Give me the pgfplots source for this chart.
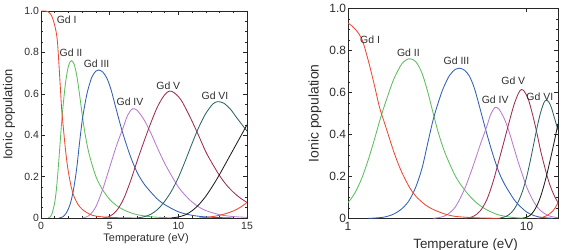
\documentclass[border=0pt]{standalone}
\usepackage{pgfplots}
\pgfplotsset{compat=1.18}
\usepackage{pgfplotstable}
\usepackage{fontspec}
\setmainfont{Liberation Sans}
\setsansfont{Liberation Sans}

\definecolor{cI}{RGB}{240,72,48}
\definecolor{cII}{RGB}{92,190,92}
\definecolor{cIII}{RGB}{48,94,182}
\definecolor{cIV}{RGB}{184,122,208}
\definecolor{cV}{RGB}{160,44,78}
\definecolor{cVI}{RGB}{46,100,100}
\definecolor{cVII}{RGB}{30,30,30}
\definecolor{txt}{RGB}{45,45,45}

\pgfplotstableread{
T v
0.02 1.0
0.3 1.0
0.5 0.997
0.7 0.985
0.85 0.965
1.0 0.93
1.1 0.90
1.2 0.85
1.3 0.75
1.4 0.64
1.5 0.53
1.6 0.455
1.7 0.385
1.8 0.32
1.9 0.265
2.0 0.22
2.2 0.15
2.4 0.105
2.7 0.065
3.0 0.042
3.5 0.02
4.0 0.009
5.0 0.003
6.0 0.001
7.0 0
}\gdI

\pgfplotstableread{
T v
0.5 0
0.65 0.004
0.8 0.02
0.9 0.045
1.0 0.075
1.1 0.125
1.2 0.195
1.3 0.28
1.4 0.37
1.5 0.46
1.55 0.5
1.65 0.57
1.8 0.66
2.0 0.735
2.2 0.76
2.4 0.745
2.6 0.69
2.8 0.6
3.0 0.5
3.2 0.41
3.5 0.31
4.0 0.2
4.5 0.135
5.0 0.09
5.5 0.06
6.0 0.04
6.5 0.026
7.0 0.016
8.0 0.006
9.0 0.002
10.0 0
}\gdII

\pgfplotstableread{
T v
1.3 0
1.4 0.001
1.6 0.006
1.8 0.02
2.0 0.045
2.2 0.085
2.4 0.15
2.6 0.24
2.8 0.36
3.0 0.47
3.2 0.55
3.4 0.615
3.7 0.68
4.0 0.71
4.2 0.715
4.5 0.705
4.8 0.675
5.1 0.62
5.4 0.545
5.7 0.47
6.0 0.4
6.5 0.3
7.0 0.22
7.5 0.165
8.0 0.125
8.5 0.09
9.0 0.065
10.0 0.03
11.0 0.013
12.0 0.005
13.0 0.002
14.0 0
}\gdIII

\pgfplotstableread{
T v
3.0 0
3.3 0.005
3.6 0.018
4.0 0.055
4.5 0.14
5.0 0.245
5.5 0.35
6.0 0.44
6.3 0.495
6.65 0.527
7.0 0.52
7.5 0.475
8.0 0.41
8.5 0.335
9.0 0.265
9.5 0.205
10.0 0.15
10.5 0.11
11.0 0.077
11.5 0.053
12.0 0.036
13.0 0.016
14.0 0.007
15.0 0.003
}\gdIV

\pgfplotstableread{
T v
4.5 0
5.0 0.008
5.5 0.035
6.0 0.09
6.5 0.175
7.0 0.275
7.5 0.37
8.0 0.46
8.5 0.54
9.0 0.595
9.35 0.613
9.7 0.605
10.2 0.57
10.8 0.495
11.4 0.41
12.0 0.32
12.5 0.26
13.0 0.205
13.5 0.16
14.0 0.125
14.5 0.097
15.0 0.075
}\gdV

\pgfplotstableread{
T v
7.0 0
7.5 0.006
8.0 0.018
8.5 0.042
9.0 0.08
9.5 0.13
10.0 0.195
10.5 0.275
11.0 0.36
11.5 0.44
12.0 0.505
12.5 0.55
12.85 0.562
13.3 0.555
13.8 0.525
14.3 0.48
15.0 0.42
}\gdVI

\pgfplotstableread{
T v
9.5 0
10.0 0.005
10.5 0.015
11.0 0.035
11.5 0.065
12.0 0.105
12.5 0.155
13.0 0.21
13.5 0.27
14.0 0.33
14.5 0.39
15.0 0.45
}\gdVII

\pgfplotstableread{
T v
11.5 0
12.0 0.003
12.5 0.007
13.0 0.013
13.5 0.022
14.0 0.034
14.5 0.051
15.0 0.075
}\gdVIII

\pgfplotsset{
  common/.style={
    scale only axis,
    ymin=0, ymax=1,
    ytick={0,0.2,0.4,0.6,0.8,1},
    yticklabels={0,0.2,0.4,0.6,0.8,1.0},
    minor y tick num=3,
    tick align=inside,
    axis line style={line width=0.7pt, black!85},
    major tick length=4pt,
    minor tick length=2.2pt,
    every tick/.style={black!85, line width=0.5pt},
    clip=true,
  },
  crv/.style={smooth, no marks, line width=0.85pt},
}
\tikzset{lab/.style={font=\fontsize{10.5}{12}\selectfont, text=txt, inner sep=0pt}}

\begin{document}
\begin{tikzpicture}
\useasboundingbox (0,0) rectangle (567bp,250bp);

% ---------------- left panel (linear) ----------------
\begin{axis}[common,
  at={(41bp,32bp)}, anchor=south west,
  width=206bp, height=207bp,
  xmin=0, xmax=15,
  xtick={0,5,10,15}, xticklabels={0,5,10,15},
  minor x tick num=4,
  tick label style={font=\fontsize{10.5}{12}\selectfont, text=txt},
  yticklabel style={xshift=1.5pt},
  xticklabel style={yshift=-0.5pt},
  xlabel={Temperature (eV)},
  ylabel={Ionic population},
  xlabel style={at={(axis description cs:0.51,-0.101)}, anchor=center, font=\fontsize{11}{13}\selectfont, text=txt},
  ylabel style={at={(axis description cs:-0.155,0.5)}, anchor=center, font=\fontsize{13}{15}\selectfont, text=txt},
]
\addplot[crv, cII] table[x=T,y=v]{\gdII};
\addplot[crv, cIII] table[x=T,y=v]{\gdIII};
\addplot[crv, cIV] table[x=T,y=v]{\gdIV};
\addplot[crv, cV] table[x=T,y=v]{\gdV};
\addplot[crv, cVI] table[x=T,y=v]{\gdVI};
\addplot[crv, cVII] table[x=T,y=v]{\gdVII};
\addplot[crv, cI] table[x=T,y=v]{\gdVIII};
\addplot[crv, cI] table[x=T,y=v]{\gdI};
\node[lab] at (axis cs:1.87,0.957) {Gd I};
\node[lab] at (axis cs:2.19,0.796) {Gd II};
\node[lab] at (axis cs:4.05,0.744) {Gd III};
\node[lab] at (axis cs:6.48,0.562) {Gd IV};
\node[lab] at (axis cs:9.27,0.638) {Gd V};
\node[lab] at (axis cs:12.67,0.591) {Gd VI};
\end{axis}

% ---------------- right panel (log) ----------------
\begin{axis}[common,
  at={(348bp,31.7bp)}, anchor=south west,
  width=210bp, height=210bp,
  xmode=log, log basis x=10,
  xmin=1, xmax=15,
  xtick={1,10}, xticklabels={1,10},
  tick label style={font=\fontsize{12}{14}\selectfont, text=txt},
  yticklabel style={xshift=1.5pt},
  xticklabel style={yshift=-0.5pt},
  xlabel={Temperature (eV)},
  ylabel={Ionic population},
  xlabel style={at={(axis description cs:0.56,-0.127)}, anchor=center, font=\fontsize{13.5}{15}\selectfont, text=txt},
  ylabel style={at={(axis description cs:-0.157,0.5)}, anchor=center, font=\fontsize{14}{16}\selectfont, text=txt},
]
\addplot[crv, cII] table[x=T,y=v]{\gdII};
\addplot[crv, cIII] table[x=T,y=v]{\gdIII};
\addplot[crv, cIV] table[x=T,y=v]{\gdIV};
\addplot[crv, cV] table[x=T,y=v]{\gdV};
\addplot[crv, cVI] table[x=T,y=v]{\gdVI};
\addplot[crv, cVII] table[x=T,y=v]{\gdVII};
\addplot[crv, cI] table[x=T,y=v]{\gdVIII};
\addplot[crv, cI] table[x=T,y=v]{\gdI};
\node[lab] at (axis cs:1.33,0.852) {Gd I};
\node[lab] at (axis cs:2.18,0.789) {Gd II};
\node[lab] at (axis cs:4.05,0.749) {Gd III};
\node[lab] at (axis cs:6.67,0.563) {Gd IV};
\node[lab] at (axis cs:8.43,0.654) {Gd V};
\node[lab] at (axis cs:11.86,0.579) {Gd VI};
\end{axis}
\end{tikzpicture}
\end{document}
